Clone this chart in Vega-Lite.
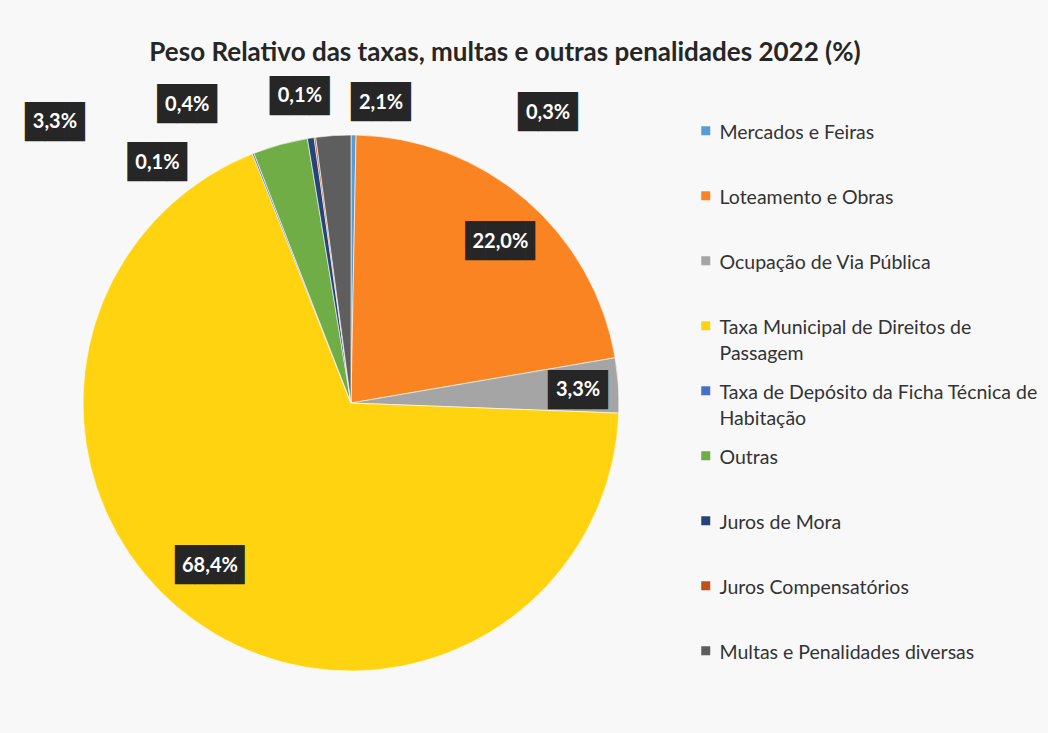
{
  "$schema": "https://vega.github.io/schema/vega-lite/v6.json",
  "autosize": "none",
  "width": 536,
  "height": 536,
  "padding": {"left": 83, "top": 135, "right": 429, "bottom": 62},
  "background": "#f8f8f8",
  "config": {
    "view": {"stroke": null},
    "locale": {"number": {"decimal": ",", "thousands": ".", "grouping": [3], "currency": ["", " €"]}},
    "style": {"guide-label": {"lineHeight": 26}}
  },
  "title": {
    "text": "Peso Relativo das taxas, multas e outras penalidades 2022 (%)",
    "font": "Lato", "fontSize": 26, "fontWeight": "bold", "color": "#262626",
    "anchor": "middle", "dx": 154, "offset": 12
  },
  "data": {"values": [
    {"categoria": "Mercados e Feiras", "pct": 0.003, "ord": 1},
    {"categoria": "Loteamento e Obras", "pct": 0.220, "ord": 2},
    {"categoria": "Ocupação de Via Pública", "pct": 0.033, "ord": 3},
    {"categoria": "Taxa Municipal de Direitos de Passagem", "pct": 0.684, "ord": 4},
    {"categoria": "Taxa de Depósito da Ficha Técnica de Habitação", "pct": 0.001, "ord": 5},
    {"categoria": "Outras", "pct": 0.033, "ord": 6},
    {"categoria": "Juros de Mora", "pct": 0.004, "ord": 7},
    {"categoria": "Juros Compensatórios", "pct": 0.001, "ord": 8},
    {"categoria": "Multas e Penalidades diversas", "pct": 0.021, "ord": 9}
  ]},
  "encoding": {
    "theta": {"field": "pct", "type": "quantitative", "stack": true},
    "order": {"field": "ord", "type": "quantitative"},
    "detail": {"field": "categoria", "type": "nominal"}
  },
  "layer": [
    {
      "mark": {"type": "arc", "stroke": "#ffffff", "strokeWidth": 0.6},
      "encoding": {
        "color": {
          "field": "categoria", "type": "nominal",
          "scale": {
            "domain": ["Mercados e Feiras", "Loteamento e Obras", "Ocupação de Via Pública", "Taxa Municipal de Direitos de Passagem", "Taxa de Depósito da Ficha Técnica de Habitação", "Outras", "Juros de Mora", "Juros Compensatórios", "Multas e Penalidades diversas"],
            "range": ["#5B9BD5", "#FB8422", "#A5A5A5", "#FFD30F", "#4472C4", "#70AD47", "#264478", "#C0501A", "#5E5E5E"]
          },
          "legend": {
            "orient": "none", "legendX": 613, "legendY": -21, "title": null,
            "symbolType": "M-1,0.56H1V2.56H-1Z", "symbolSize": 81, "symbolStrokeWidth": 0,
            "labelFont": "Lato", "labelFontSize": 19.5, "labelColor": "#333333",
            "labelLimit": 400, "labelOffset": 4, "rowPadding": 10, "labelBaseline": "top", "padding": 0,
            "labelExpr": "datum.label == 'Taxa Municipal de Direitos de Passagem' ? ['Taxa Municipal de Direitos de', 'Passagem'] : datum.label == 'Taxa de Depósito da Ficha Técnica de Habitação' ? ['Taxa de Depósito da Ficha Técnica de', 'Habitação'] : [datum.label, '']"
          }
        }
      }
    },
    {"mark": {"type": "text", "font": "DejaVu Sans Mono", "fontSize": 33, "fill": "#262626", "align": "left", "baseline": "alphabetic", "radius": 268, "dx": 164.7, "dy": -11.9},
     "encoding": {"text": {"condition": {"test": "datum.categoria === 'Mercados e Feiras'", "value": "███"}, "value": ""}}},
    {"mark": {"type": "text", "font": "Lato", "fontSize": 20, "fontWeight": "bold", "fill": "#ffffff", "align": "center", "baseline": "middle", "radius": 268, "dx": 194.5, "dy": -22.5},
     "encoding": {"text": {"condition": {"test": "datum.categoria === 'Mercados e Feiras'", "field": "pct", "type": "quantitative", "format": ".1%"}, "value": ""}}},

    {"mark": {"type": "text", "font": "DejaVu Sans Mono", "fontSize": 33, "fill": "#262626", "align": "left", "baseline": "alphabetic", "radius": 220, "dx": -28.8, "dy": 16.1},
     "encoding": {"text": {"condition": {"test": "datum.categoria === 'Loteamento e Obras'", "value": "███▌"}, "value": ""}}},
    {"mark": {"type": "text", "font": "Lato", "fontSize": 20, "fontWeight": "bold", "fill": "#ffffff", "align": "center", "baseline": "middle", "radius": 220, "dx": 6, "dy": 5.5},
     "encoding": {"text": {"condition": {"test": "datum.categoria === 'Loteamento e Obras'", "field": "pct", "type": "quantitative", "format": ".1%"}, "value": ""}}},

    {"mark": {"type": "text", "font": "DejaVu Sans Mono", "fontSize": 33, "fill": "#262626", "align": "left", "baseline": "alphabetic", "radius": 220, "dx": -22.3, "dy": 12.1},
     "encoding": {"text": {"condition": {"test": "datum.categoria === 'Ocupação de Via Pública'", "value": "███"}, "value": ""}}},
    {"mark": {"type": "text", "font": "Lato", "fontSize": 20, "fontWeight": "bold", "fill": "#ffffff", "align": "center", "baseline": "middle", "radius": 220, "dx": 7.5, "dy": 1.5},
     "encoding": {"text": {"condition": {"test": "datum.categoria === 'Ocupação de Via Pública'", "field": "pct", "type": "quantitative", "format": ".1%"}, "value": ""}}},

    {"mark": {"type": "text", "font": "DejaVu Sans Mono", "fontSize": 33, "fill": "#262626", "align": "left", "baseline": "alphabetic", "radius": 220, "dx": -48.8, "dy": -6.4},
     "encoding": {"text": {"condition": {"test": "datum.categoria === 'Taxa Municipal de Direitos de Passagem'", "value": "███▌"}, "value": ""}}},
    {"mark": {"type": "text", "font": "Lato", "fontSize": 20, "fontWeight": "bold", "fill": "#ffffff", "align": "center", "baseline": "middle", "radius": 220, "dx": -14, "dy": -17},
     "encoding": {"text": {"condition": {"test": "datum.categoria === 'Taxa Municipal de Direitos de Passagem'", "field": "pct", "type": "quantitative", "format": ".1%"}, "value": ""}}},

    {"mark": {"type": "text", "font": "DejaVu Sans Mono", "fontSize": 33, "fill": "#262626", "align": "left", "baseline": "alphabetic", "radius": 268, "dx": -125.5, "dy": 19.6},
     "encoding": {"text": {"condition": {"test": "datum.categoria === 'Taxa de Depósito da Ficha Técnica de Habitação'", "value": "███"}, "value": ""}}},
    {"mark": {"type": "text", "font": "Lato", "fontSize": 20, "fontWeight": "bold", "fill": "#ffffff", "align": "center", "baseline": "middle", "radius": 268, "dx": -95.7, "dy": 9},
     "encoding": {"text": {"condition": {"test": "datum.categoria === 'Taxa de Depósito da Ficha Técnica de Habitação'", "field": "pct", "type": "quantitative", "format": ".1%"}, "value": ""}}},

    {"mark": {"type": "text", "font": "DejaVu Sans Mono", "fontSize": 33, "fill": "#262626", "align": "left", "baseline": "alphabetic", "radius": 268, "dx": -255.1, "dy": -11.4},
     "encoding": {"text": {"condition": {"test": "datum.categoria === 'Outras'", "value": "███"}, "value": ""}}},
    {"mark": {"type": "text", "font": "Lato", "fontSize": 20, "fontWeight": "bold", "fill": "#ffffff", "align": "center", "baseline": "middle", "radius": 268, "dx": -225.3, "dy": -22},
     "encoding": {"text": {"condition": {"test": "datum.categoria === 'Outras'", "field": "pct", "type": "quantitative", "format": ".1%"}, "value": ""}}},

    {"mark": {"type": "text", "font": "DejaVu Sans Mono", "fontSize": 33, "fill": "#262626", "align": "left", "baseline": "alphabetic", "radius": 268, "dx": -153.3, "dy": -22.9},
     "encoding": {"text": {"condition": {"test": "datum.categoria === 'Juros de Mora'", "value": "███"}, "value": ""}}},
    {"mark": {"type": "text", "font": "Lato", "fontSize": 20, "fontWeight": "bold", "fill": "#ffffff", "align": "center", "baseline": "middle", "radius": 268, "dx": -123.5, "dy": -33.5},
     "encoding": {"text": {"condition": {"test": "datum.categoria === 'Juros de Mora'", "field": "pct", "type": "quantitative", "format": ".1%"}, "value": ""}}},

    {"mark": {"type": "text", "font": "DejaVu Sans Mono", "fontSize": 33, "fill": "#262626", "align": "left", "baseline": "alphabetic", "radius": 268, "dx": -44.8, "dy": -30.8},
     "encoding": {"text": {"condition": {"test": "datum.categoria === 'Juros Compensatórios'", "value": "███"}, "value": ""}}},
    {"mark": {"type": "text", "font": "Lato", "fontSize": 20, "fontWeight": "bold", "fill": "#ffffff", "align": "center", "baseline": "middle", "radius": 268, "dx": -15, "dy": -41.4},
     "encoding": {"text": {"condition": {"test": "datum.categoria === 'Juros Compensatórios'", "field": "pct", "type": "quantitative", "format": ".1%"}, "value": ""}}},

    {"mark": {"type": "text", "font": "DejaVu Sans Mono", "fontSize": 33, "fill": "#262626", "align": "left", "baseline": "alphabetic", "radius": 268, "dx": 18, "dy": -22.4},
     "encoding": {"text": {"condition": {"test": "datum.categoria === 'Multas e Penalidades diversas'", "value": "███"}, "value": ""}}},
    {"mark": {"type": "text", "font": "Lato", "fontSize": 20, "fontWeight": "bold", "fill": "#ffffff", "align": "center", "baseline": "middle", "radius": 268, "dx": 47.8, "dy": -33},
     "encoding": {"text": {"condition": {"test": "datum.categoria === 'Multas e Penalidades diversas'", "field": "pct", "type": "quantitative", "format": ".1%"}, "value": ""}}}
  ]
}
